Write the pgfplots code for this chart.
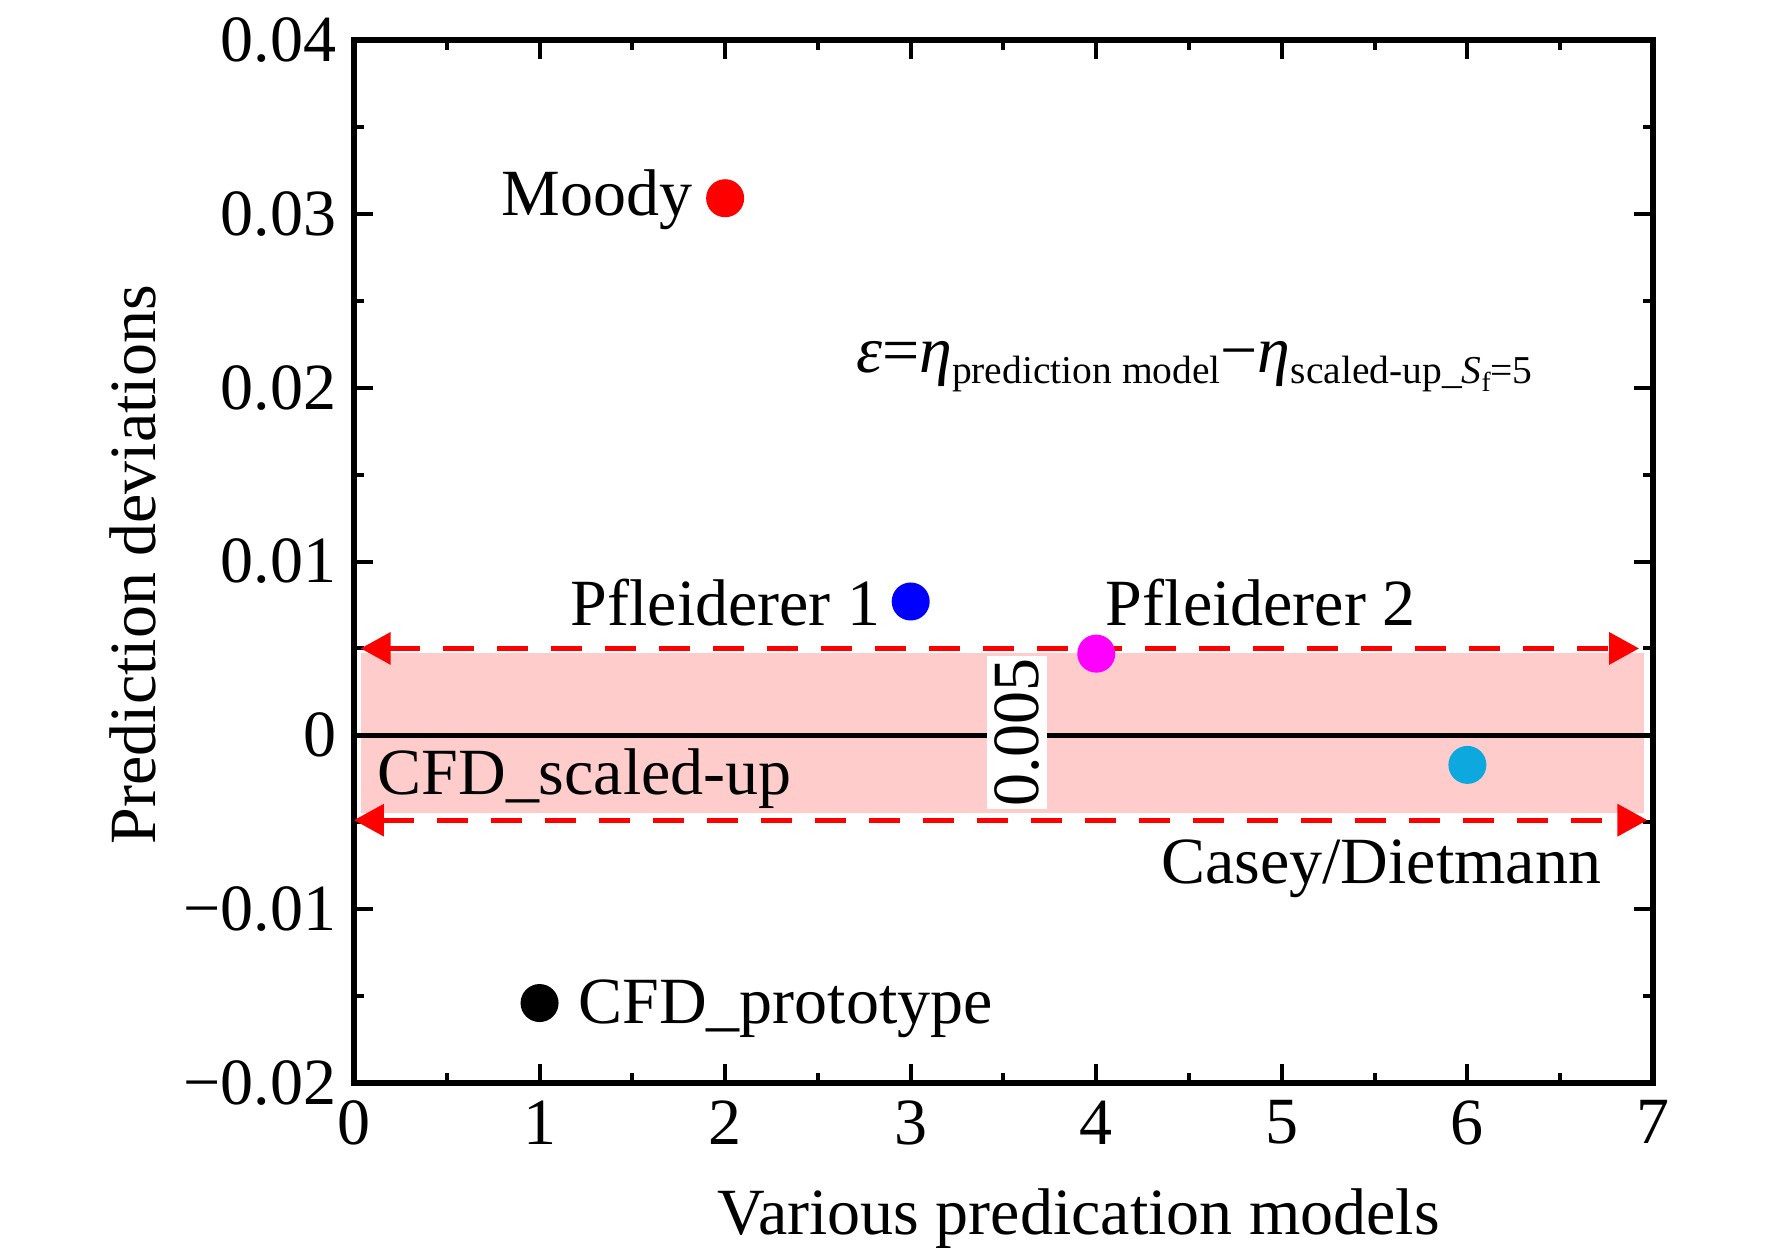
\documentclass[border=0pt]{standalone}
\usepackage{fontspec}
\setmainfont{Liberation Serif}
\usepackage{pgfplots}
\pgfplotsset{compat=1.18}
\usetikzlibrary{arrows.meta}
\definecolor{bandpink}{RGB}{255,204,204}
\definecolor{caseyblue}{RGB}{12,168,222}
\definecolor{puremagenta}{RGB}{255,0,255}
\definecolor{purered}{RGB}{255,0,0}
\definecolor{pureblue}{RGB}{0,0,255}
\begin{document}
\begin{tikzpicture}[font=\fontsize{13.2}{15.8}\selectfont]
\path[use as bounding box] (-70.8pt,-33pt) rectangle (283.6pt,216.6pt);
\begin{axis}[
  scale only axis, width=259.8pt, height=208.6pt,
  xmin=0, xmax=7, ymin=-0.02, ymax=0.04,
  xtick={0,1,2,3,4,5,6,7}, xticklabels={0,1,2,3,4,5,6,7},
  ytick={-0.02,-0.01,0,0.01,0.02,0.03,0.04},
  yticklabels={−0.02,−0.01,0,0.01,0.02,0.03,0.04},
  scaled y ticks=false,
  minor x tick num=1, minor y tick num=1,
  tick align=inside, tick pos=both,
  major tick length=3.8pt, minor tick length=2pt,
  every tick/.style={black, line width=0.8pt},
  axis line style={line width=1.1pt},
  xlabel={Various predication models},
  ylabel={Prediction deviations},
  xlabel style={at={(axis description cs:0.558,-0.1457)}, anchor=base},
  ylabel style={at={(axis description cs:-0.1528,0.497)}, anchor=base},
  clip=false,
]
% tolerance band
\addplot[draw=none, fill=bandpink] coordinates {(0.036,-0.00447) (6.95,-0.00447) (6.95,0.00473) (0.036,0.00473)} -- cycle;
% data points
\addplot[only marks, mark=*, mark size=3.6pt, color=black] coordinates {(1,-0.0154)};
\addplot[only marks, mark=*, mark size=3.6pt, color=purered] coordinates {(2,0.0309)};
\addplot[only marks, mark=*, mark size=3.6pt, color=pureblue] coordinates {(3,0.0077)};
\addplot[only marks, mark=*, mark size=3.6pt, color=puremagenta] coordinates {(4,0.0047)};
\addplot[only marks, mark=*, mark size=3.6pt, color=caseyblue] coordinates {(6,-0.0017)};
% dashed bounds
\addplot[purered, line width=1pt, dash pattern=on 6.2pt off 4.6pt, {Triangle[length=6pt,width=6.3pt]}-{Triangle[length=6pt,width=6.3pt]}] coordinates {(0.036,0.005) (6.925,0.005)};
\addplot[purered, line width=1pt, dash pattern=on 6.2pt off 4.6pt, {Triangle[length=6pt,width=6.3pt]}-{Triangle[length=6pt,width=6.3pt]}] coordinates {(0.0,-0.00488) (6.97,-0.00488)};
% zero line
\addplot[black, line width=0.9pt] coordinates {(0,0) (7,0)};
\node[rotate=90, fill=white, inner xsep=0.5pt, inner ysep=1.5pt] at (axis cs:3.573,0.00016) {0.005};
% labels
\node[anchor=base east, inner sep=0pt] at (axis cs:1.83,0.0299) {Moody};
\node[anchor=base east, inner sep=0pt] at (axis cs:2.842,0.0063) {Pfleiderer 1};
\node[anchor=base west, inner sep=0pt] at (axis cs:4.047,0.0063) {Pfleiderer 2};
\node[anchor=base west, inner sep=0pt] at (axis cs:0.122,-0.0034) {CFD\_scaled-up};
\node[anchor=base east, inner sep=0pt] at (axis cs:6.726,-0.0085) {Casey/Dietmann};
\node[anchor=base west, inner sep=0pt] at (axis cs:1.205,-0.0166) {CFD\_prototype};
\node[anchor=base west, inner sep=0pt] at (axis cs:2.70,0.0209) {{\itshape ε}={\itshape η}\raisebox{-2.3pt}{\fontsize{7.9}{9}\selectfont prediction model}−{\itshape η}\raisebox{-2.3pt}{\fontsize{7.9}{9}\selectfont scaled-up\_{\itshape S}\raisebox{-1.5pt}{\fontsize{5.5}{6}\selectfont f}=5}};
\end{axis}
\end{tikzpicture}
\end{document}
